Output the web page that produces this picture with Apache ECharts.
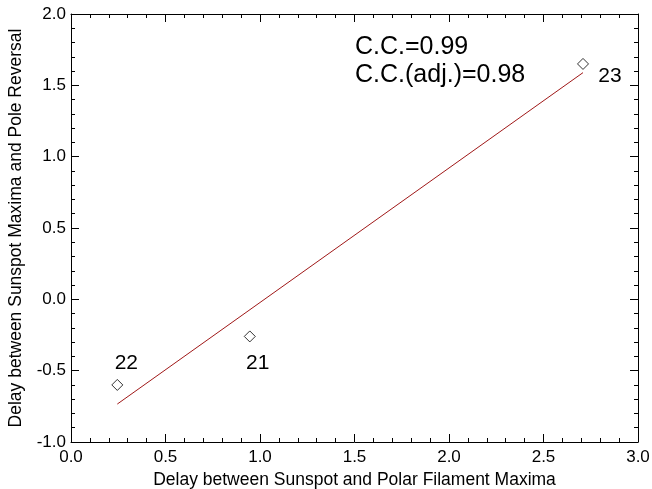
<!DOCTYPE html>
<html>
<head>
<meta charset="utf-8">
<script src="https://cdn.jsdelivr.net/npm/echarts@6/dist/echarts.min.js"></script>
<style>
  html, body { margin: 0; padding: 0; background: #fff; }
  #chart { width: 652px; height: 489px; }
</style>
</head>
<body>
<div id="chart"></div>
<script>
// Solar cycle numbers and their delays (years)
var cycles = ['21', '22', '23'];
var filamentDelay = [0.946, 0.245, 2.709];   // sunspot max -> polar filament max
var reversalDelay = [-0.26, -0.60, 1.65];    // sunspot max -> pole reversal

// Linear fit endpoints (over the range of the data)
var fitX = [0.245, 2.709];
var fitY = [-0.734, 1.589];

// Correlation annotations
var ccText = ['C.C.=0.99', 'C.C.(adj.)=0.98'];

var FONT = '"Liberation Sans", Arial, Helvetica, sans-serif';

// Label placement for each cycle number relative to its marker
var labelOffsets = { '21': [8, 27], '22': [9, -22], '23': [27, 12] };

var pts = cycles.map(function (c, i) {
  return {
    value: [filamentDelay[i], reversalDelay[i]],
    name: c,
    label: { offset: labelOffsets[c] }
  };
});

var fitLine = fitX.map(function (x, i) { return [x, fitY[i]]; });

function axisCommon(pos, showLabels) {
  return {
    type: 'value',
    position: pos,
    axisLine: { show: true, onZero: false, lineStyle: { color: '#000', width: 1 } },
    axisTick: { show: true, inside: true, length: 8, lineStyle: { color: '#000', width: 1 } },
    minorTick: { show: true, splitNumber: 5, length: 4, lineStyle: { color: '#000', width: 1 } },
    splitLine: { show: false },
    axisLabel: {
      show: showLabels,
      color: '#000',
      fontFamily: FONT,
      fontSize: 17,
      formatter: function (v) { return v.toFixed(1); }
    }
  };
}

var xBottom = axisCommon('bottom', true);
xBottom.min = 0; xBottom.max = 3; xBottom.interval = 0.5;
xBottom.axisLabel.margin = 7;
xBottom.name = 'Delay between Sunspot and Polar Filament Maxima';
xBottom.nameLocation = 'middle';
xBottom.nameGap = 23;
xBottom.nameTextStyle = { color: '#000', fontFamily: FONT, fontSize: 17.5 };

var xTop = axisCommon('top', false);
xTop.min = 0; xTop.max = 3; xTop.interval = 0.5;

var yLeft = axisCommon('left', true);
yLeft.min = -1; yLeft.max = 2; yLeft.interval = 0.5;
yLeft.axisLabel.margin = 5;
yLeft.name = 'Delay between Sunspot Maxima and Pole Reversal';
yLeft.nameLocation = 'middle';
yLeft.nameGap = 46;
yLeft.nameTextStyle = { color: '#000', fontFamily: FONT, fontSize: 17.5 };

var yRight = axisCommon('right', false);
yRight.min = -1; yRight.max = 2; yRight.interval = 0.5;

var chart = echarts.init(document.getElementById('chart'), null, { renderer: 'canvas' });

chart.setOption({
  animation: false,
  backgroundColor: '#fff',
  grid: {
    left: 71, right: 14, top: 14, bottom: 47,
    containLabel: false,
    outerBoundsMode: 'none'
  },
  xAxis: [xBottom, xTop],
  yAxis: [yLeft, yRight],
  graphic: [
    {
      type: 'text', left: 355, top: 35,
      style: { text: ccText[0], fill: '#000', font: '25px ' + FONT }
    },
    {
      type: 'text', left: 355, top: 63,
      style: { text: ccText[1], fill: '#000', font: '25px ' + FONT }
    }
  ],
  series: [
    {
      type: 'line',
      xAxisIndex: 0, yAxisIndex: 0,
      data: fitLine,
      showSymbol: false,
      lineStyle: { color: '#a01818', width: 1 },
      z: 2
    },
    {
      type: 'scatter',
      xAxisIndex: 0, yAxisIndex: 0,
      data: pts,
      symbol: 'diamond',
      symbolSize: 11,
      itemStyle: { color: '#fff', borderColor: '#000', borderWidth: 1 },
      label: {
        show: true,
        position: 'inside',
        formatter: '{b}',
        color: '#000',
        opacity: 1,
        textBorderWidth: 0,
        fontFamily: FONT,
        fontSize: 21
      },
      emphasis: { disabled: true },
      z: 3
    }
  ]
});
</script>
</body>
</html>
